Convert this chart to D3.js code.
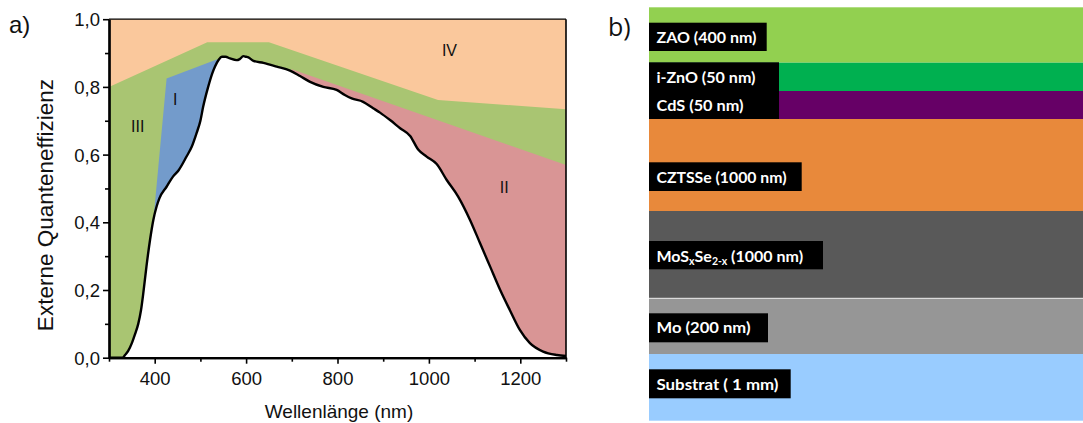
<!DOCTYPE html>
<html>
<head>
<meta charset="utf-8">
<script src="https://cdn.jsdelivr.net/npm/d3@7"></script>
<style>
  html, body { margin: 0; padding: 0; background: #ffffff; }
  svg { display: block; }
</style>
</head>
<body>
<svg id="chart" width="1083" height="423"></svg>
<script>
// ---------- DATA ----------
// EQE curve (wavelength in nm, external quantum efficiency)
const wavelength = [300, 330, 335, 342, 350, 357, 364, 370, 375, 382, 390, 397, 404, 410, 426, 440, 452, 470, 481, 492, 500, 506, 517, 526, 532, 540, 547, 555, 565, 579, 586, 594, 600, 605, 616, 638, 667, 696, 718, 740, 769, 798, 816, 831, 856, 878, 893, 915, 937, 959, 977, 995, 1017, 1039, 1064, 1090, 1112, 1134, 1156, 1177, 1199, 1221, 1250, 1280, 1300];
const eqe = [0.0, 0.0, 0.008, 0.02, 0.043, 0.07, 0.10, 0.14, 0.19, 0.27, 0.35, 0.407, 0.446, 0.47, 0.505, 0.535, 0.553, 0.595, 0.623, 0.665, 0.70, 0.741, 0.80, 0.84, 0.86, 0.880, 0.889, 0.889, 0.884, 0.879, 0.882, 0.891, 0.889, 0.887, 0.877, 0.871, 0.86, 0.848, 0.832, 0.815, 0.80, 0.791, 0.776, 0.766, 0.756, 0.737, 0.724, 0.702, 0.678, 0.655, 0.614, 0.594, 0.572, 0.525, 0.476, 0.407, 0.338, 0.269, 0.20, 0.141, 0.082, 0.043, 0.018, 0.008, 0.005];

// Boundary between region IV (top) and region III
const boundaryIVx = [300, 515, 650, 1020, 1300];
const boundaryIVy = [0.80, 0.932, 0.932, 0.761, 0.734];
// Region I (blue) outline above the curve
const regionIx = [398, 426, 537];
const regionIy = [0.42, 0.825, 0.882];
// Boundary between region III and region II
const regionIIx = [700, 1300];
const regionIIy = [0.852, 0.569];

const regionLabels = ["I", "II", "III", "IV"];
const regionLabelX = [445, 1165, 363, 1045];
const regionLabelY = [0.76, 0.50, 0.68, 0.905];

const xTicks = [400, 600, 800, 1000, 1200];
const xMinor = [300, 500, 700, 900, 1100, 1300];
const yTicks = [0, 0.2, 0.4, 0.6, 0.8, 1.0];
const yTickLabels = ["0,0", "0,2", "0,4", "0,6", "0,8", "1,0"];
const yMinor = [0.1, 0.3, 0.5, 0.7, 0.9];

// Layer stack (schematic relative heights)
const layerNames = ["ZAO", "i-ZnO", "CdS", "CZTSSe", "MoSSe", "Mo", "Substrat"];
const layerUnits = [55.4, 28.3, 28, 92, 87.3, 55.7, 66.7];
const layerColors = ["#92d050", "#00b050", "#660066", "#e8893b", "#595959", "#969696", "#99ccff"];

// ---------- DRAW ----------
const svg = d3.select("#chart");
const FONT = "'Liberation Sans', Arial, sans-serif";

const x = d3.scaleLinear().domain([300, 1300]).range([109, 566]);
const y = d3.scaleLinear().domain([0, 1]).range([357.7, 19.2]);

const pA = svg.append("g");
const pts = (xs, ys) => xs.map((v, i) => [x(v), y(ys[i])]);
const line = d3.line();

// region IV background
pA.append("rect").attr("x", x(300)).attr("y", y(1)).attr("width", x(1300) - x(300)).attr("height", y(0) - y(1))
  .attr("fill", "#fac89c");
// region III (green) below boundary
pA.append("path").attr("d", line(pts(boundaryIVx, boundaryIVy).concat([[x(1300), y(0)], [x(300), y(0)]])) + "Z")
  .attr("fill", "#a9c572");
// region II (red)
pA.append("path").attr("d", line(pts(regionIIx, regionIIy).concat([[x(1300), y(0)], [x(regionIIx[0]), y(0)]])) + "Z")
  .attr("fill", "#d99595");
// region I (blue)
pA.append("path").attr("d", line(pts(regionIx, regionIy).concat([[x(regionIx[2]), y(0)], [x(regionIx[0]), y(0)]])) + "Z")
  .attr("fill", "#739bcb");
// white area under EQE curve
const area = d3.area().curve(d3.curveMonotoneX).x((d, i) => x(wavelength[i])).y0(y(0)).y1((d) => y(d));
pA.append("path").attr("d", area(eqe)).attr("fill", "#ffffff");
// EQE curve
const eqeLine = d3.line().curve(d3.curveMonotoneX).x((d, i) => x(wavelength[i])).y((d) => y(d));
pA.append("path").attr("d", eqeLine(eqe)).attr("fill", "none").attr("stroke", "#000").attr("stroke-width", 2.4)
  .attr("stroke-linejoin", "round");

// region labels
regionLabels.forEach((t, i) => {
  pA.append("text").attr("x", x(regionLabelX[i])).attr("y", y(regionLabelY[i]))
    .attr("text-anchor", "middle").attr("dominant-baseline", "middle")
    .attr("font-family", FONT).attr("font-size", 16).attr("fill", "#111").text(t);
});

// frame (top/right)
pA.append("line").attr("x1", x(300)).attr("x2", x(1300)).attr("y1", y(1)).attr("y2", y(1)).attr("stroke", "#000").attr("stroke-width", 1.3);
pA.append("line").attr("x1", x(1300)).attr("x2", x(1300)).attr("y1", y(1)).attr("y2", y(0)).attr("stroke", "#000").attr("stroke-width", 1.6);

// axes
const xAxis = pA.append("g").attr("transform", `translate(0,${y(0)})`)
  .call(d3.axisBottom(x).tickValues(xTicks).tickSize(6).tickSizeOuter(0).tickFormat(d3.format("d")));
const xAxisMinor = pA.append("g").attr("transform", `translate(0,${y(0)})`)
  .call(d3.axisBottom(x).tickValues(xMinor).tickSize(4).tickSizeOuter(0).tickFormat(""));
const yAxis = pA.append("g").attr("transform", `translate(${x(300)},0)`)
  .call(d3.axisLeft(y).tickValues(yTicks).tickSize(6).tickSizeOuter(0).tickFormat((d, i) => yTickLabels[i]));
const yAxisMinor = pA.append("g").attr("transform", `translate(${x(300)},0)`)
  .call(d3.axisLeft(y).tickValues(yMinor).tickSize(4).tickSizeOuter(0).tickFormat(""));
[xAxis, xAxisMinor, yAxis, yAxisMinor].forEach(g => {
  g.select(".domain").attr("stroke", "#000").attr("stroke-width", 2.2);
  g.selectAll(".tick line").attr("stroke", "#000").attr("stroke-width", 1.6);
  g.selectAll(".tick text").attr("font-family", FONT).attr("font-size", 18.5).attr("fill", "#111");
});
xAxis.selectAll(".tick text").attr("dy", null).attr("y", 27);
yAxis.selectAll(".tick text").attr("x", -9).attr("dy", "0.36em");

// axis titles
pA.append("text").attr("x", 339).attr("y", 418).attr("text-anchor", "middle")
  .attr("font-family", FONT).attr("font-size", 19).attr("fill", "#111").text("Wellenlänge (nm)");
pA.append("text").attr("transform", "translate(53,205) rotate(-90)").attr("text-anchor", "middle")
  .attr("font-family", FONT).attr("font-size", 22.5).attr("fill", "#111").text("Externe Quanteneffizienz");

// panel label a)
svg.append("text").attr("x", 9).attr("y", 33).attr("font-family", FONT).attr("font-size", 24).attr("fill", "#111").text("a)");

// ---------- PANEL b ----------
const LFONT = "Lato, 'Open Sans', sans-serif";
const totalUnits = d3.sum(layerUnits);
const ly = d3.scaleLinear().domain([0, totalUnits]).range([7.3, 420.7]);
const lx0 = 649, lx1 = 1083;
const cum = d3.cumsum(layerUnits);
const pB = svg.append("g");
layerNames.forEach((n, i) => {
  const top = i === 0 ? 0 : cum[i - 1];
  pB.append("rect").attr("x", lx0).attr("y", ly(top)).attr("width", lx1 - lx0).attr("height", ly(cum[i]) - ly(top))
    .attr("fill", layerColors[i]);
});
// thin separator between MoSSe and Mo
pB.append("line").attr("x1", lx0).attr("x2", lx1).attr("y1", ly(cum[4])).attr("y2", ly(cum[4]))
  .attr("stroke", "#e8e8e8").attr("stroke-width", 1);

// label boxes (layout)
const boxes = [
  { y0: 22.7, y1: 51, x1: 766.7 },
  { y0: 62.3, y1: 119, x1: 779 },
  { y0: 162.3, y1: 191, x1: 801.7 },
  { y0: 241, y1: 269.3, x1: 823 },
  { y0: 313.3, y1: 342.3, x1: 768 },
  { y0: 369.3, y1: 398.3, x1: 790.7 }
];
boxes.forEach(b => {
  pB.append("rect").attr("x", lx0).attr("y", b.y0).attr("width", b.x1 - lx0).attr("height", b.y1 - b.y0).attr("fill", "#000");
});
const labelTexts = [
  { t: "ZAO (400 nm)", y: 43, w: 100 },
  { t: "i-ZnO (50 nm)", y: 82.7, w: 99 },
  { t: "CdS (50 nm)", y: 111, w: 87 },
  { t: "CZTSSe (1000 nm)", y: 183, w: 130 },
  { t: "Mo (200 nm)", y: 333, w: 94 },
  { t: "Substrat ( 1 mm)", y: 390, w: 122 }
];
labelTexts.forEach(l => {
  pB.append("text").attr("x", 656.5).attr("y", l.y).attr("font-family", LFONT).attr("font-weight", "bold")
    .attr("font-size", 15.5).attr("fill", "#fff").attr("textLength", l.w).attr("lengthAdjust", "spacingAndGlyphs").text(l.t);
});
// MoSxSe2-x label with subscripts
const mt = pB.append("text").attr("x", 656.5).attr("y", 261.7).attr("font-family", LFONT).attr("font-weight", "bold")
  .attr("font-size", 16).attr("fill", "#fff");
mt.append("tspan").text("MoS");
mt.append("tspan").attr("font-size", 10.5).attr("dy", 3).text("x");
mt.append("tspan").attr("dy", -3).text("Se");
mt.append("tspan").attr("font-size", 10.5).attr("dy", 3).text("2-x");
mt.append("tspan").attr("dy", -3).text(" (1000 nm)");

// panel label b)
svg.append("text").attr("x", 608).attr("y", 36).attr("font-family", "'Open Sans', sans-serif").attr("font-size", 25).attr("fill", "#111").text("b)");
</script>
</body>
</html>
